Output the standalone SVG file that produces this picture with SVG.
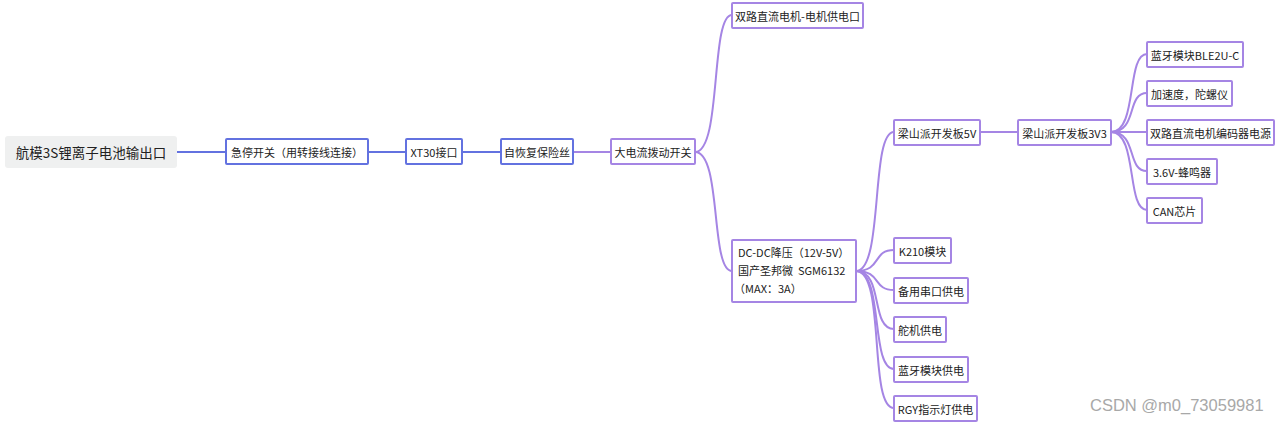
<svg xmlns="http://www.w3.org/2000/svg" width="1280" height="424" viewBox="0 0 1280 424">
<style>
.bg{fill:#ffffff}
.nb{fill:#ffffff;stroke:#6372e0;stroke-width:2}
.np{fill:#ffffff;stroke:#a585e4;stroke-width:2}
.t{font-family:"Noto Sans CJK SC","Noto Sans",sans-serif;font-size:11px;fill:#222;text-anchor:middle;dominant-baseline:central}
.tl{font-family:"Noto Sans CJK SC","Noto Sans",sans-serif;font-size:11px;fill:#222}
.lb{fill:none;stroke:#6372e0;stroke-width:2}
.lp{fill:none;stroke:#a585e4;stroke-width:2}
</style>
<rect class="bg" x="0" y="0" width="1280" height="424"/>
<g id="connectors">
<path class="lb" d="M177,152 H226"/>
<path class="lb" d="M368,152 H406"/>
<path class="lb" d="M462,152 H501"/>
<path class="lp" d="M573,152 H611"/>
<path class="lp" d="M695,152 C722,152 710,15 732,15"/>
<path class="lp" d="M695,152 C722,152 710,271 732,271"/>
<path class="lp" d="M856,271 C884,271 870,132 894,132"/>
<path class="lp" d="M856,271 C882,271 872,250 894,250"/>
<path class="lp" d="M856,271 C882,271 872,290 894,290"/>
<path class="lp" d="M856,271 C884,271 870,329 894,329"/>
<path class="lp" d="M856,271 C884,271 870,369 894,369"/>
<path class="lp" d="M856,271 C886,271 868,408 894,408"/>
<path class="lp" d="M980,132 H1018"/>
<path class="lp" d="M1111,132 C1138,132 1126,54 1147,54"/>
<path class="lp" d="M1111,132 C1138,132 1126,93 1147,93"/>
<path class="lp" d="M1111,132 H1147"/>
<path class="lp" d="M1111,132 C1138,132 1126,171 1147,171"/>
<path class="lp" d="M1111,132 C1138,132 1126,210 1147,210"/>
</g>
<g id="root">
<rect x="5" y="136" width="172" height="32" rx="3" fill="#eff0f0"/>
<text class="t" x="91" y="152" style="font-size:13.5px" fill="#333">航模3S锂离子电池输出口</text>
</g>
<g id="n-estop"><rect class="nb" x="226" y="139" width="142" height="25" rx="1"/><text class="t" x="297" y="151.5">急停开关（用转接线连接）</text></g>
<g id="n-xt30"><rect class="nb" x="406" y="139" width="56" height="25" rx="1"/><text class="t" x="434" y="151.5">XT30接口</text></g>
<g id="n-fuse"><rect class="nb" x="501" y="139" width="72" height="25" rx="1"/><text class="t" x="537" y="151.5">自恢复保险丝</text></g>
<g id="n-switch"><rect class="np" x="611" y="139" width="84" height="25" rx="1"/><text class="t" x="653" y="151.5">大电流拨动开关</text></g>
<g id="n-motor"><rect class="np" x="732" y="3" width="131" height="25" rx="1"/><text class="t" x="797.5" y="15.5">双路直流电机-电机供电口</text></g>
<g id="n-dcdc"><rect class="np" x="732" y="240" width="124" height="62" rx="1"/>
<text class="tl" x="738" y="257">DC-DC降压（12V-5V）</text>
<text class="tl" x="738" y="275" xml:space="preserve">国产圣邦微  SGM6132</text>
<text class="tl" x="734" y="293">（MAX：3A）</text></g>
<g id="n-lsp5v"><rect class="np" x="894" y="120" width="86" height="25" rx="1"/><text class="t" x="937" y="132.5">梁山派开发板5V</text></g>
<g id="n-lsp3v3"><rect class="np" x="1018" y="120" width="93" height="25" rx="1"/><text class="t" x="1064.5" y="132.5">梁山派开发板3V3</text></g>
<g id="n-ble"><rect class="np" x="1147" y="42" width="96" height="25" rx="1"/><text class="t" x="1195" y="54.5">蓝牙模块BLE2U-C</text></g>
<g id="n-imu"><rect class="np" x="1147" y="81" width="85" height="25" rx="1"/><text class="t" x="1189.5" y="93.5">加速度，陀螺仪</text></g>
<g id="n-enc"><rect class="np" x="1147" y="120" width="127" height="25" rx="1"/><text class="t" x="1210.5" y="132.5">双路直流电机编码器电源</text></g>
<g id="n-buzz"><rect class="np" x="1147" y="159" width="70" height="25" rx="1"/><text class="t" x="1182" y="171.5">3.6V-蜂鸣器</text></g>
<g id="n-can"><rect class="np" x="1147" y="198" width="55" height="25" rx="1"/><text class="t" x="1174.5" y="210.5">CAN芯片</text></g>
<g id="n-k210"><rect class="np" x="894" y="238" width="57" height="25" rx="1"/><text class="t" x="922.5" y="250.5">K210模块</text></g>
<g id="n-uart"><rect class="np" x="894" y="278" width="74" height="25" rx="1"/><text class="t" x="931" y="290.5">备用串口供电</text></g>
<g id="n-servo"><rect class="np" x="894" y="317" width="52" height="25" rx="1"/><text class="t" x="920" y="329.5">舵机供电</text></g>
<g id="n-blep"><rect class="np" x="894" y="357" width="74" height="25" rx="1"/><text class="t" x="931" y="369.5">蓝牙模块供电</text></g>
<g id="n-rgy"><rect class="np" x="894" y="396" width="83" height="25" rx="1"/><text class="t" x="935.5" y="408.5">RGY指示灯供电</text></g>
<text x="1090" y="411" style="font-family:'Liberation Sans',Arial,sans-serif;font-size:16.5px" fill="#a8a8a8">CSDN @m0_73059981</text>
</svg>
